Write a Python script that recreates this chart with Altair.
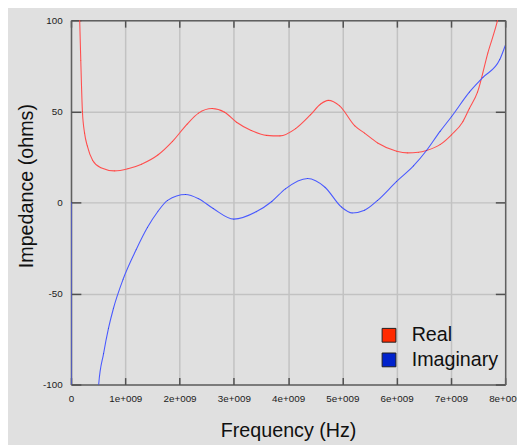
import altair as alt
import pandas as pd

# Frequencies in Hz, impedance in ohms
real_freq = [0.12e9, 0.16e9, 0.18e9, 0.21e9, 0.25e9, 0.30e9, 0.40e9, 0.55e9, 0.80e9,
             1.05e9, 1.30e9, 1.60e9, 1.87e9, 2.14e9, 2.35e9, 2.60e9, 2.83e9, 3.05e9,
             3.32e9, 3.60e9, 3.85e9, 4.14e9, 4.41e9, 4.60e9, 4.74e9, 4.95e9, 5.23e9,
             5.41e9, 5.65e9, 6.00e9, 6.20e9, 6.40e9, 6.55e9, 6.80e9, 7.01e9, 7.22e9,
             7.34e9, 7.49e9, 7.68e9, 7.86e9, 7.95e9]
real_vals = [160, 100, 78, 50, 38, 31, 23, 19, 17.3,
             18.5, 21, 26, 33.5, 43, 49, 51.5, 49.5, 44,
             39.5, 36.8, 36.5, 40.5, 48, 54, 56, 53, 42,
             38, 32.6, 28.1, 27.2, 27.5, 28.5, 31.7, 37.1, 44.3,
             51.5, 60.5, 82, 100, 112]

imag_freq = [0.0, 0.01e9, 0.30e9, 0.42e9, 0.51e9, 0.60e9, 0.69e9, 0.78e9, 0.96e9,
             1.20e9, 1.41e9, 1.60e9, 1.78e9, 2.11e9, 2.35e9, 2.62e9, 3.00e9,
             3.41e9, 3.70e9, 3.95e9, 4.36e9, 4.68e9, 4.98e9, 5.18e9, 5.41e9, 5.65e9,
             6.00e9, 6.31e9, 6.55e9, 6.80e9, 7.01e9, 7.34e9, 7.59e9, 7.90e9, 8.00e9]
imag_vals = [0, -2000, -300, -150, -100, -83, -69.2, -58.4, -42.2,
             -26, -13.7, -5, 1.1, 4.3, 2, -3.4, -9.2,
             -5.2, 0.5, 7.4, 13.1, 8.3, -2.5, -5.8, -4.3, 1.1,
             11.5, 20, 28.5, 39, 47, 60.5, 68.6, 78.4, 86]

series_names = ["Real", "Imaginary"]
line_colors = ["#ff4f4f", "#4a5aff"]
legend_colors = ["#ff2a00", "#0022cc"]
x_ticks = [0, 1e9, 2e9, 3e9, 4e9, 5e9, 6e9, 7e9, 8e9]
y_ticks = [-100, -50, 0, 50, 100]

rows = []
for i, (f, v) in enumerate(zip(real_freq, real_vals)):
    rows.append({"freq": f, "val": v, "series": "Real", "order": i})
for i, (f, v) in enumerate(zip(imag_freq, imag_vals)):
    rows.append({"freq": f, "val": v, "series": "Imaginary", "order": i})
df = pd.DataFrame(rows)

W, H = 441, 370
FONT = "Liberation Sans"
xscale = alt.Scale(domain=[0, 8e9], nice=False, zero=False)
yscale = alt.Scale(domain=[-100, 100], nice=False, zero=False)

x_label_expr = "datum.value == 0 ? '0' : format(datum.value / 1e9, 'd') + 'e+009'"
y_label_expr = "replace(datum.label, '\u2212', '-')"

main = alt.Chart(df).mark_line(clip=True, strokeWidth=1.1, interpolate="monotone").encode(
    x=alt.X("freq:Q", scale=xscale,
            axis=alt.Axis(orient="bottom", values=x_ticks, grid=True, gridColor="#c2c2c2",
                          gridWidth=1.5, ticks=False, domain=True, domainColor="#606060",
                          domainWidth=1.5, labelExpr=x_label_expr, labelFont=FONT,
                          labelFontSize=10, labelColor="#202020", labelPadding=9,
                          labelFlush=False, labelOverlap=False,
                          title="Frequency (Hz)", titleFont=FONT, titleFontSize=20,
                          titleFontWeight="normal", titleColor="#101010",
                          titleY=53, titleBaseline="alphabetic")),
    y=alt.Y("val:Q", scale=yscale,
            axis=alt.Axis(orient="left", values=y_ticks, grid=True, gridColor="#c2c2c2",
                          gridWidth=1.5, ticks=False, domain=True, domainColor="#606060",
                          domainWidth=1.5, labelExpr=y_label_expr, labelFont=FONT,
                          labelFontSize=10, labelColor="#202020", labelPadding=9,
                          labelFlush=False, labelOverlap=False,
                          title="Impedance (ohms)", titleFont=FONT, titleFontSize=20,
                          titleFontWeight="normal", titleColor="#101010",
                          titleAngle=270, titleX=-39, titleY=168,
                          titleAlign="center", titleBaseline="alphabetic")),
    # domain listed in reverse order so this (hidden) legend is not merged with the fill legend
    stroke=alt.Stroke("series:N",
                      scale=alt.Scale(domain=series_names[::-1], range=line_colors[::-1]),
                      legend=None),
    order="order:Q",
)

# legend carrier: tiny filled squares sitting on the curves
legend_layer = alt.Chart(df).mark_point(shape="square", filled=True, size=0.5, clip=True).encode(
    x=alt.X("freq:Q", scale=xscale, axis=None),
    y=alt.Y("val:Q", scale=yscale, axis=None),
    fill=alt.Fill("series:N", scale=alt.Scale(domain=series_names, range=legend_colors),
                  legend=alt.Legend(orient="none", legendX=313, legendY=310, title=None,
                                    symbolType="square", symbolSize=196,
                                    symbolStrokeColor="#202020", symbolStrokeWidth=1,
                                    symbolOpacity=1, labelFont=FONT, labelFontSize=20,
                                    labelColor="#101010", labelOffset=13, rowPadding=5,
                                    labelLimit=300)),
)

# inward ticks along bottom and left edges
inner_a = alt.Chart(df).mark_point(opacity=0).encode(
    x=alt.X("freq:Q", scale=xscale,
            axis=alt.Axis(orient="top", offset=-H, values=x_ticks, grid=False, labels=False,
                          ticks=True, tickSize=7, tickColor="#505050", tickWidth=1.5,
                          domain=False, title=None)),
    y=alt.Y("val:Q", scale=yscale,
            axis=alt.Axis(orient="right", offset=-W, values=y_ticks, grid=False, labels=False,
                          ticks=True, tickSize=10, tickColor="#505050", tickWidth=1.5,
                          domain=False, title=None)),
)

# inward ticks along top and right edges (and frame)
inner_b = alt.Chart(df).mark_point(opacity=0).encode(
    x=alt.X("freq:Q", scale=xscale,
            axis=alt.Axis(orient="bottom", offset=-H, values=x_ticks, grid=False, labels=False,
                          ticks=True, tickSize=7, tickColor="#505050", tickWidth=1.5,
                          domain=True, domainColor="#606060", domainWidth=1.5, title=None)),
    y=alt.Y("val:Q", scale=yscale,
            axis=alt.Axis(orient="left", offset=-W, values=y_ticks, grid=False, labels=False,
                          ticks=True, tickSize=10, tickColor="#505050", tickWidth=1.5,
                          domain=True, domainColor="#606060", domainWidth=1.5, title=None)),
)

chart = alt.layer(main, legend_layer, inner_a, inner_b).resolve_axis(
    x="independent", y="independent"
).properties(
    width=W, height=H,
    autosize=alt.AutoSizeParams(type="none"),
    padding={"left": 64, "top": 9, "right": 12, "bottom": 58},
    background="#e0e0e0",
).configure_view(stroke=None)

chart.save("out.html", embed_options={"renderer": "svg", "actions": False})
